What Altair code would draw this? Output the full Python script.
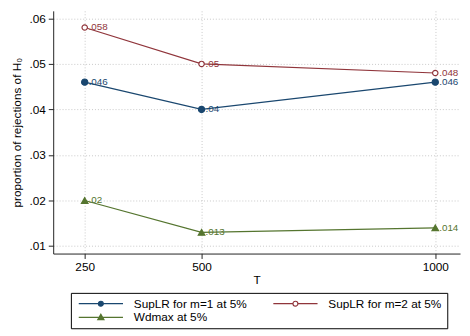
import altair as alt
import pandas as pd

T = [250, 500, 1000]
series = ["SupLR for m=1 at 5%", "SupLR for m=2 at 5%", "Wdmax at 5%"]
m1 = [0.046, 0.040, 0.046]
m2 = [0.058, 0.050, 0.048]
wd = [0.020, 0.013, 0.014]
y_ticks = [0.01, 0.02, 0.03, 0.04, 0.05, 0.06]

strokes = ["#1a476f", "#90353b", "#55752f"]
fills = ["#1a476f", "white", "#55752f"]
markers = ["circle", "circle", "triangle-up"]
msize = [40, 30, 45]
# legend symbols: line + marker (path units scale with sqrt(symbolSize)/2)
legend_paths = [
    "M-1,0H14M7.33,0A0.83,0.83 0 1,1 5.67,0A0.83,0.83 0 1,1 7.33,0Z",
    "M-1,0H5.67M7.33,0H14M7.33,0A0.83,0.83 0 1,1 5.67,0A0.83,0.83 0 1,1 7.33,0Z",
    "M-1,0H14M6.5,-1.1L7.55,0.75L5.45,0.75Z",
]
# legend fills column by column: order so rows read m=1, m=2 / Wdmax
legend_order = [0, 2, 1]

rows = []
for i, (name, vals) in enumerate(zip(series, [m1, m2, wd])):
    for t, v in zip(T, vals):
        rows.append({
            "series": name, "T": t, "value": v,
            "label": f"{v:g}".lstrip("0"),
            "col": strokes[i], "fillc": fills[i], "mk": markers[i], "sz": msize[i],
        })
df = pd.DataFrame(rows)

FONT = "Liberation Sans"

base = alt.Chart(df).encode(
    x=alt.X("T:Q",
            scale=alt.Scale(domain=[182.6, 1053], nice=False, zero=False),
            axis=alt.Axis(values=T, format="d", title="T", grid=True, gridDash=[1, 2],
                          gridColor="#c8c8c8", labelFontSize=12, titleFontSize=12,
                          titleFontWeight="normal", tickSize=5, labelPadding=3,
                          titlePadding=2, domainColor="#222", tickColor="#222",
                          labelColor="#000", titleColor="#000")),
    y=alt.Y("value:Q",
            scale=alt.Scale(domain=[0.00834, 0.06166], nice=False, zero=False),
            axis=alt.Axis(values=y_ticks,
                          labelExpr="replace(format(datum.value,'.2f'),'0.','.')",
                          title="proportion of rejections of H₀",
                          grid=True, gridDash=[1, 2], gridColor="#c8c8c8",
                          labelFontSize=12, titleFontSize=12, titleFontWeight="normal",
                          tickSize=5, labelPadding=3, titlePadding=6,
                          domainColor="#222", tickColor="#222",
                          labelColor="#000", titleColor="#000")),
)

lines = base.mark_line(strokeWidth=1.2).encode(
    color=alt.Color("col:N", scale=None),
    detail="series:N",
)

points = base.mark_point(opacity=1, strokeWidth=1.2).encode(
    stroke=alt.Stroke("col:N", scale=None),
    fill=alt.Fill("fillc:N", scale=None),
    shape=alt.Shape("mk:N", scale=None),
    size=alt.Size("sz:Q", scale=None),
)

texts = base.mark_text(align="left", baseline="middle", dx=4, fontSize=10).encode(
    text="label:N",
    color=alt.Color("col:N", scale=None),
)

dom = [series[i] for i in legend_order]
legend_layer = base.mark_point(opacity=1, strokeWidth=1.2).encode(
    shape=alt.Shape("series:N", scale=alt.Scale(domain=dom, range=[legend_paths[i] for i in legend_order]), title=None),
    color=alt.Color("series:N", scale=alt.Scale(domain=dom, range=[strokes[i] for i in legend_order]), title=None),
    fill=alt.Fill("series:N", scale=alt.Scale(domain=dom, range=[fills[i] for i in legend_order]), title=None),
).transform_filter("false")

chart = alt.layer(lines, points, texts, legend_layer).properties(
    width=414, height=247,
    autosize=alt.AutoSizeParams(type="none"),
    padding={"left": 46, "top": 0, "right": 2, "bottom": 81},
).configure(font=FONT).configure_view(stroke=None).configure_legend(
    orient="none", legendX=18, legendY=287, columns=2,
    strokeColor="#000", fillColor="white", padding=5, cornerRadius=0,
    labelFont=FONT, labelFontSize=12, labelColor="#000",
    symbolSize=36, symbolStrokeWidth=1.2, symbolOpacity=1,
    labelOffset=47, columnPadding=23, rowPadding=2,
)

chart.save("out.html", embed_options={"renderer": "svg", "actions": False})
